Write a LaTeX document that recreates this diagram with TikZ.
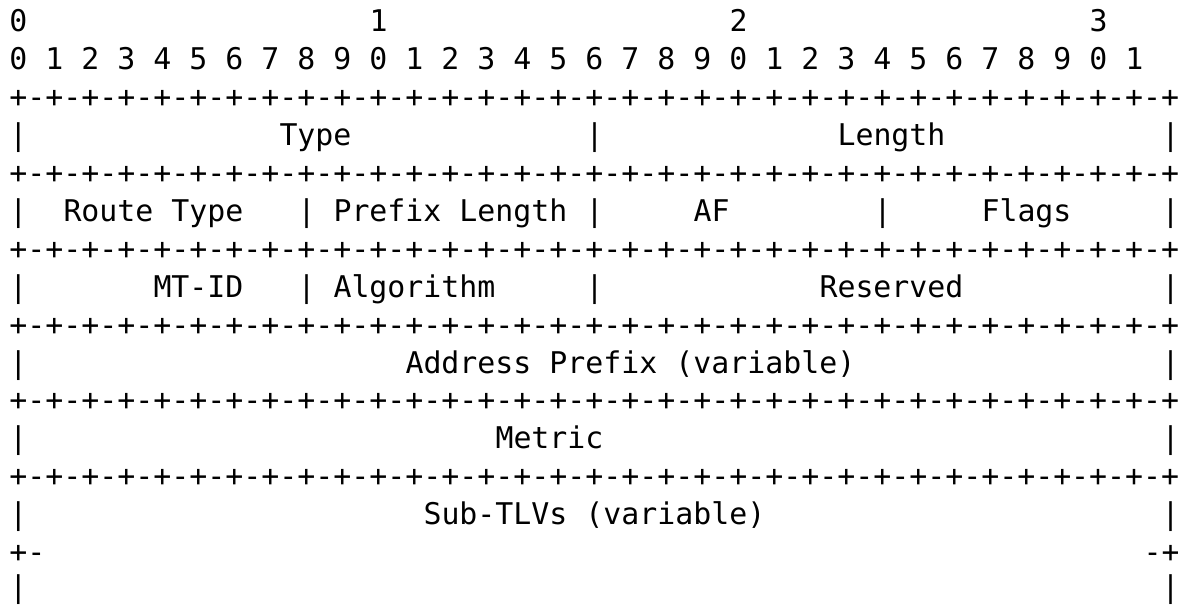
\documentclass[tikz,border=0pt]{standalone}
\usepackage{fontspec}
\newfontfamily\pktmono{DejaVu Sans Mono}

\newcommand\pktrule{+-+-+-+-+-+-+-+-%
+-+-+-+-+-+-+-+-%
+-+-+-+-+-+-+-+-%
+-+-+-+-+-+-+-+-%
+}

\tikzset{every picture/.style={line width=0.75pt}}
\tikzset{pkt/.style={anchor=base west,inner sep=0pt,font=\pktmono\fontsize{22.42pt}{26pt}\selectfont}}

\begin{document}
\begin{tikzpicture}[x=0.75pt,y=0.75pt,yscale=-1,xscale=1]
\useasboundingbox (0,0) rectangle (1178,605);

% Bit numbers
\draw (9,32) node [pkt] (ten0) {0};
\draw (369,32) node [pkt] (ten1) {1};
\draw (729,32) node [pkt] (ten2) {2};
\draw (1089,32) node [pkt] (ten3) {3};
\draw (9,69.9) node [pkt] (bits) {0 1 2 3 4 5 6 7 8 9 0 1 2 3 4 5 6 7 8 9 0 1 2 3 4 5 6 7 8 9 0 1};

% Rules between the words
\draw (9,107.8) node [pkt] (rule1) {\pktrule};
\draw (9,183.6) node [pkt] (rule2) {\pktrule};
\draw (9,259.4) node [pkt] (rule3) {\pktrule};
\draw (9,335.2) node [pkt] (rule4) {\pktrule};
\draw (9,411) node [pkt] (rule5) {\pktrule};
\draw (9,486.8) node [pkt] (rule6) {\pktrule};

% Type / Length
\draw (9,145.7) node [pkt] (v3a) {|};
\draw (279,145.7) node [pkt] (type) {Type};
\draw (585,145.7) node [pkt] (v3b) {|};
\draw (837,145.7) node [pkt] (length) {Length};
\draw (1161,145.7) node [pkt] (v3c) {|};

% Route Type / Prefix Length / AF / Flags
\draw (9,221.5) node [pkt] (v5a) {|};
\draw (63,221.5) node [pkt] (rtype) {Route Type};
\draw (297,221.5) node [pkt] (v5b) {|};
\draw (333,221.5) node [pkt] (plen) {Prefix Length};
\draw (585,221.5) node [pkt] (v5c) {|};
\draw (693,221.5) node [pkt] (af) {AF};
\draw (873,221.5) node [pkt] (v5d) {|};
\draw (981,221.5) node [pkt] (flags) {Flags};
\draw (1161,221.5) node [pkt] (v5e) {|};

% MT-ID / Algorithm / Reserved
\draw (9,297.3) node [pkt] (v7a) {|};
\draw (153,297.3) node [pkt] (mtid) {MT-ID};
\draw (297,297.3) node [pkt] (v7b) {|};
\draw (333,297.3) node [pkt] (algo) {Algorithm};
\draw (585,297.3) node [pkt] (v7c) {|};
\draw (819,297.3) node [pkt] (resvd) {Reserved};
\draw (1161,297.3) node [pkt] (v7d) {|};

% Address Prefix
\draw (9,373.1) node [pkt] (v9a) {|};
\draw (405,373.1) node [pkt] (prefix) {Address Prefix (variable)};
\draw (1161,373.1) node [pkt] (v9b) {|};

% Metric
\draw (9,448.9) node [pkt] (v11a) {|};
\draw (495,448.9) node [pkt] (metric) {Metric};
\draw (1161,448.9) node [pkt] (v11b) {|};

% Sub-TLVs, open at the bottom
\draw (9,524.7) node [pkt] (v13a) {|};
\draw (423,524.7) node [pkt] (subtlv) {Sub-TLVs (variable)};
\draw (1161,524.7) node [pkt] (v13b) {|};
\draw (9,562.6) node [pkt] (cutl) {+-};
\draw (1143,562.6) node [pkt] (cutr) {-+};
\draw (9,597) node [pkt] (v15a) {|};
\draw (1161,597) node [pkt] (v15b) {|};

\end{tikzpicture}
\end{document}
